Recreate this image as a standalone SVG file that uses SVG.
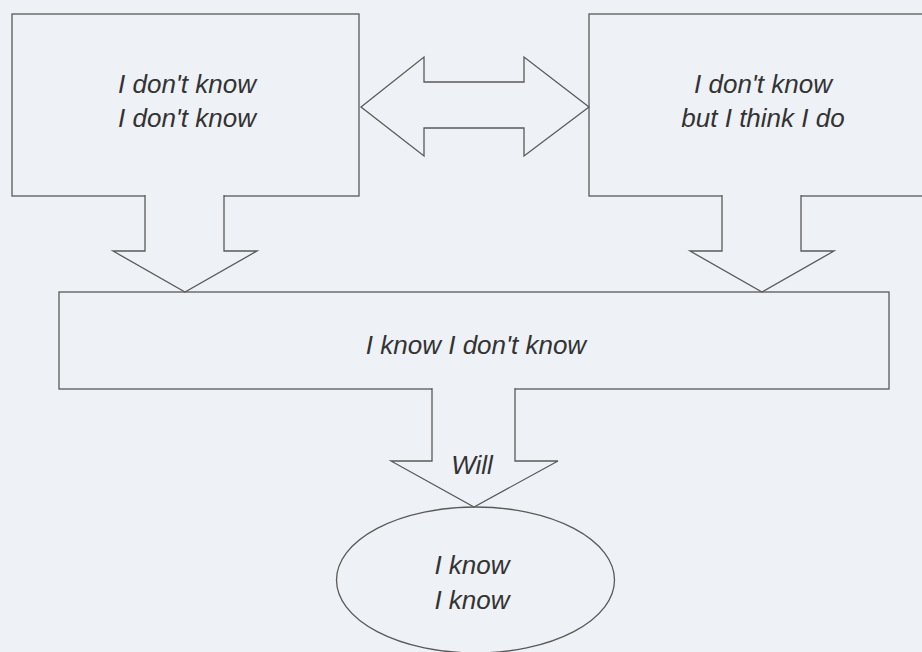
<svg xmlns="http://www.w3.org/2000/svg" width="922" height="652" viewBox="0 0 922 652">
<style>
.shape{fill:#eef1f5;stroke:#5a5a5a;stroke-width:1.3;stroke-linejoin:miter}
.lbl{font-family:"Liberation Sans",Arial,sans-serif;font-style:italic;font-size:26px;fill:#333;text-anchor:middle}
</style>
<rect x="0" y="0" width="922" height="652" fill="#eef1f5"/>
<g id="node-unconscious-incompetence">
<rect class="shape" x="12" y="14" width="347" height="182"/>
<text class="lbl" x="187" y="93">I don't know</text>
<text class="lbl" x="187" y="127">I don't know</text>
</g>
<g id="node-think-i-do">
<rect class="shape" x="589" y="14" width="350" height="182"/>
<text class="lbl" x="763" y="93">I don't know</text>
<text class="lbl" x="763" y="127">but I think I do</text>
</g>
<g id="node-conscious-incompetence">
<rect class="shape" x="59" y="292" width="830" height="97"/>
<text class="lbl" x="476" y="354">I know I don't know</text>
</g>
<g id="node-conscious-competence">
<ellipse class="shape" cx="475.5" cy="580" rx="139" ry="73"/>
<text class="lbl" x="472" y="574">I know</text>
<text class="lbl" x="472" y="609">I know</text>
</g>
<g id="connectors">
<polygon class="shape" points="361,107 424,57 424,82 524,82 524,57 589,107 524,156 524,128 424,128 424,156"/>
<path class="shape" d="M145,195 V251 H113 L185,292 L257,251 H224 V195"/>
<path class="shape" d="M722,195 V251 H690 L762,292 L834,251 H801 V195"/>
<path class="shape" d="M432,388 V461 H391 L474,507 L558,461 H515 V388"/>
<text class="lbl" x="472" y="474">Will</text>
</g>
</svg>
